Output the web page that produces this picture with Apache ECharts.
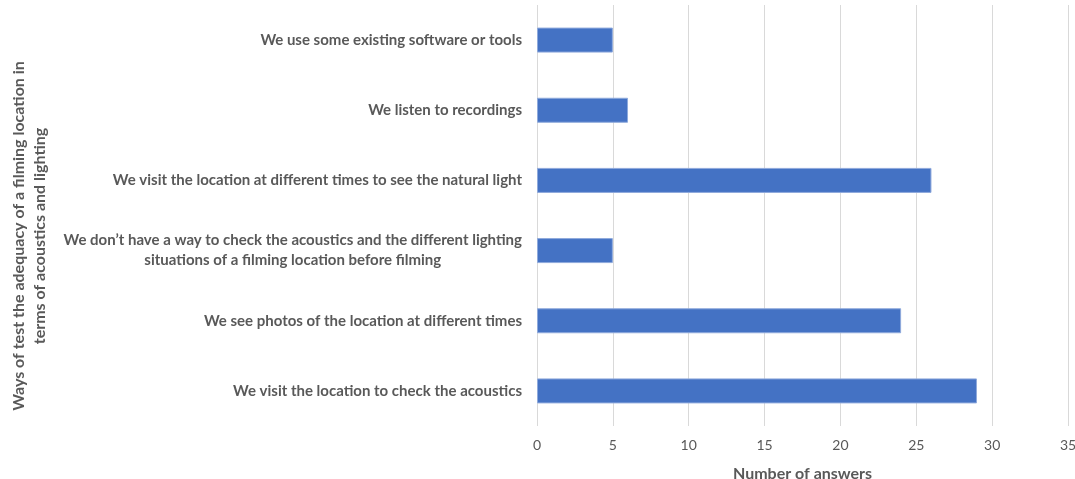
<!DOCTYPE html>
<html>
<head>
<meta charset="utf-8">
<script src="https://cdn.jsdelivr.net/npm/echarts@6/dist/echarts.min.js"></script>
<style>
  html, body { margin: 0; padding: 0; background: #ffffff; }
  #chart { width: 1075px; height: 479px; }
</style>
</head>
<body>
<div id="chart"></div>
<script>
// Survey answers: ways of testing a filming location (top to bottom)
const categories = [
  'We use some existing software or tools',
  'We listen to recordings',
  'We visit the location at different times to see the natural light',
  'We don\u2019t have a way to check the acoustics and the different lighting\nsituations of a filming location before filming',
  'We see photos of the location at different times',
  'We visit the location to check the acoustics'
];
const answers = [5, 6, 26, 5, 24, 29];
const xTicks = { min: 0, max: 35, interval: 5 };

const FONT = 'Lato';
const GREY = '#595959';

const chart = echarts.init(document.getElementById('chart'), null, { renderer: 'canvas' });

chart.setOption({
  animation: false,
  grid: {
    left: 537, right: 7, top: 5, bottom: 53,
    containLabel: false,
    outerBoundsMode: 'none'
  },
  xAxis: {
    type: 'value',
    min: xTicks.min,
    max: xTicks.max,
    interval: xTicks.interval,
    name: 'Number of answers',
    nameLocation: 'middle',
    nameGap: 40,
    nameTextStyle: { fontFamily: FONT, fontWeight: 'bold', fontSize: 16, color: GREY },
    axisLine: { show: false },
    axisTick: { show: false },
    axisLabel: { fontFamily: FONT, fontSize: 14, color: GREY, margin: 12 },
    splitLine: { show: true, lineStyle: { color: '#d9d9d9', width: 1 } }
  },
  yAxis: {
    type: 'category',
    inverse: true,
    data: categories,
    axisLine: { show: false },
    axisTick: { show: false },
    axisLabel: {
      margin: 15,
      fontFamily: FONT,
      fontWeight: 'bold',
      fontSize: 15,
      color: GREY,
      lineHeight: 20,
      formatter: function (v) {
        return v.split('\n').map(function (s) { return '{c|' + s + '}'; }).join('\n');
      },
      rich: {
        c: { align: 'center', fontFamily: FONT, fontWeight: 'bold', fontSize: 15, color: GREY, lineHeight: 20 }
      }
    }
  },
  series: [{
    type: 'bar',
    data: answers,
    barWidth: 25,
    itemStyle: { color: '#4472C4', borderColor: '#8faadc', borderWidth: 1 }
  }],
  graphic: [{
    type: 'text',
    x: 29,
    y: 236,
    rotation: Math.PI / 2,
    style: {
      text: 'Ways of test the adequacy of a filming location in\nterms of acoustics and lighting',
      fontFamily: FONT,
      fontWeight: 'bold',
      fontSize: 16,
      lineHeight: 21,
      fill: GREY,
      align: 'center',
      verticalAlign: 'middle'
    }
  }]
});
</script>
</body>
</html>
